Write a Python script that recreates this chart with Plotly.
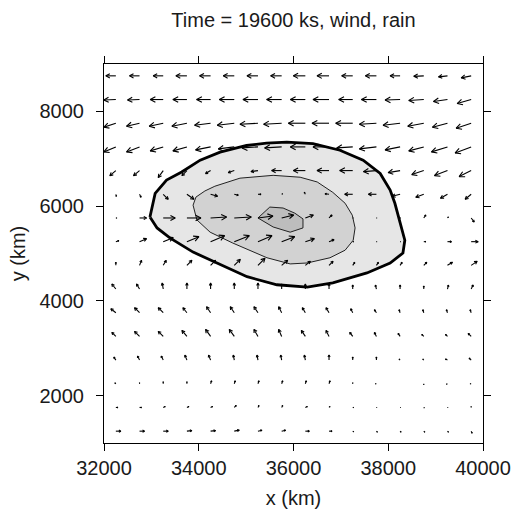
import math
import plotly.graph_objects as go

# ---------------- data ----------------
x_cols = [32250, 32750, 33250, 33750, 34250, 34750, 35250, 35750,
          36250, 36750, 37250, 37750, 38250, 38750, 39250, 39750]
y_rows = [8750, 8250, 7750, 7250, 6750, 6250, 5750, 5250,
          4750, 4250, 3750, 3250, 2750, 2250, 1750, 1250]

# wind components (arbitrary units), one list per row, top to bottom
u_wind = [
    [-10, -10, -10, -11, -11, -11, -11, -11, -12, -12, -11, -11, -10, -10, -9, -10],
    [-12, -12, -13, -14, -14, -15, -15, -15, -15, -16, -14, -15, -15, -15, -14, -14],
    [-12, -13, -14, -15, -16, -17, -18, -18, -17, -17, -17, -17, -17, -16, -15, -15],
    [-12, -13, -13, -14, -15, -16, -16, -17, -15, -16, -16, -17, -15, -15, -16, -16],
    [-6, -6, -5, -5, -5, -6, -7, -10, -12, -12, -13, -13, -12, -12, -13, -12],
    [0.5, 1.5, 5, 7, 7, 4, 3, 1, -1, -4, -8, -8, -8, -8, -7, -6],
    [1, 7, 12, 14, 16, 17, 15, 12, 8, 3, 0.5, 0.5, 0.5, 2, 1, 3],
    [3, 7, 10, 12, 14, 15, 14, 13, 9, 5, 1, 0.5, 0.5, 2, 4, 7],
    [0, 2, 3, 5, 5, 6, 7, 6, 5, 4, 2, 2, 2, 3, 5, 6],
    [-4, -3, -1, 0, 0, 0, 0, 0, 0, 0, 0, -1, 0, 0, 1, 2],
    [-5, -5, -5, -4, -4, -4, -4, -3, -3, -3, -2, -2, -1, -1, -1, -1],
    [-4, -5, -5, -5, -5, -5, -4, -3, -4, -3, -3, -2, -2, -2, -2, -3],
    [-2, -2, -2, -2, -2, -1, -1, -1, -1, 0, 0, 0, -1, -1, -2, -2],
    [-1, 0, 0, 0, 1, 1, 1, 1, 1, 1, 0, -1, 0, 0, -1, -1],
    [2, 2, 2, 2, 2, 2, 1, 1, 2, 1, 1, 0.5, 0.5, 0.5, 0.5, 0],
    [5, 5, 5, 5, 5, 5, 4, 4, 4, 3, 1, 1, 1, 1, 1, 1],
]
v_wind = [
    [0, 0, 0, 0, 0, 0, 0, 0, 0, 0, 0, 0, 0, -0.5, -1, -2],
    [-0.5, -0.5, 0, 0, 0, 0, 0, 0, 0, 0, 0, 0, -0.5, -1, -2, -4],
    [-4, -3, -3, -3, -2, -2, -1, -1, 0, 0, 0, -1, -2, -3, -4, -5],
    [-5, -5, -4, -4, -3, -2, -1, -1, 0, 0, -1, -2, -3, -4, -5, -6],
    [-5, -5, -7, -5, -3, -2, -1, 0, 0, 0, 0, -1, -2, -4, -5, -6],
    [-2, -3, -5, -5, -2, -1, 0, 0.5, 2, 0.5, 0, 0, -2, -3, -4, -5],
    [0, 0, 0, 0, 1, 1, 2, 3, 3, 3, 0, 0, 0, 3, 1, -4],
    [1, 3, 4, 5, 6, 6, 6, 5, 3, 2, 0, 0, 0, 0, 0, 0],
    [3, 5, 5, 5, 5, 6, 7, 5, 4, 4, 3, 3, 3, 3, 3, 4],
    [5, 5, 6, 6, 6, 6, 6, 5, 5, 5, 4, 4, 4, 3, 4, 4],
    [4, 5, 5, 5, 6, 6, 6, 6, 5, 5, 4, 3, 3, 3, 3, 3],
    [4, 5, 5, 6, 7, 7, 7, 7, 6, 6, 4, 4, 3, 2, 2, 3],
    [3, 4, 4, 5, 5, 5, 5, 5, 5, 5, 3, 3, 1, 1, 1, 2],
    [1, 1, 2, 2, 3, 3, 3, 3, 3, 3, 1, 0, 0, -1, -0.5, 0],
    [0, 0, 1, 1, 1, 2, 2, 2, 1, 1, 0, 0, 0, -0.5, 0, 1],
    [0, 0, 0, 0.5, 0.5, 1, 1, 1, 0, 0, -0.5, -1, -1, -1, -1, -2],
]

# rain contour outlines (km)
rain_outer_x = [32970, 33080, 33320, 33640, 34030, 34450, 35010, 35430, 35860, 36410,
                36980, 37470, 37830, 38040, 38140, 38250, 38350, 38310, 38040, 37550,
                36830, 36290, 35650, 35020, 34390, 33880, 33390, 33120, 32970]
rain_outer_y = [5770, 6270, 6550, 6720, 6970, 7140, 7280, 7330, 7350, 7320,
                7180, 6970, 6690, 6340, 6060, 5640, 5280, 5010, 4800, 4590,
                4380, 4290, 4340, 4510, 4800, 5030, 5330, 5540, 5770]
rain_mid_x = [33880, 33940, 34130, 34340, 34870, 35570, 36140, 36500, 36830, 37090,
              37240, 37300, 37260, 37090, 36770, 36290, 35930, 35440, 34720, 34240,
              33960, 33880]
rain_mid_y = [6020, 6190, 6320, 6420, 6590, 6650, 6610, 6510, 6290, 6060,
              5810, 5540, 5280, 5070, 4910, 4800, 4780, 4910, 5220, 5450,
              5710, 6020]
rain_inner_x = [35250, 35500, 35780, 36030, 36200, 36200, 35930, 35570, 35250]
rain_inner_y = [5750, 5980, 5960, 5850, 5730, 5540, 5450, 5560, 5750]

x_ticks = [32000, 34000, 36000, 38000, 40000]
x_tick_text = ["32000", "34000", "36000", "38000", "40000"]
y_ticks = [2000, 4000, 6000, 8000]
y_tick_text = ["2000", "4000", "6000", "8000"]

# ---------------- styling ----------------
KM_PER_UNIT = 21.1
HEAD_FRAC = 0.45
HEAD_MAX = 6.0 * KM_PER_UNIT
HEAD_ANG = math.radians(28)
FONT = "Liberation Sans, Arial, Helvetica, sans-serif"

ax_x, ax_y = [], []
for j, yv in enumerate(y_rows):
    for i, xv in enumerate(x_cols):
        dx = u_wind[j][i] * KM_PER_UNIT
        dy = v_wind[j][i] * KM_PER_UNIT
        L = math.hypot(dx, dy)
        if L == 0:
            continue
        x1, y1 = xv + dx, yv + dy
        ax_x += [xv, x1, None]
        ax_y += [yv, y1, None]
        h = min(HEAD_FRAC * L, HEAD_MAX)
        a = math.atan2(dy, dx)
        hx1 = x1 - h * math.cos(a - HEAD_ANG)
        hy1 = y1 - h * math.sin(a - HEAD_ANG)
        hx2 = x1 - h * math.cos(a + HEAD_ANG)
        hy2 = y1 - h * math.sin(a + HEAD_ANG)
        ax_x += [hx1, x1, hx2, None]
        ax_y += [hy1, y1, hy2, None]

fig = go.Figure()
fig.add_trace(go.Scatter(x=rain_outer_x, y=rain_outer_y, mode="lines", fill="toself",
                         fillcolor="#e6e6e6", line=dict(color="black", width=2.8),
                         hoverinfo="skip", showlegend=False))
fig.add_trace(go.Scatter(x=rain_mid_x, y=rain_mid_y, mode="lines", fill="toself",
                         fillcolor="#d2d2d2", line=dict(color="#222", width=1),
                         hoverinfo="skip", showlegend=False))
fig.add_trace(go.Scatter(x=rain_inner_x, y=rain_inner_y, mode="lines", fill="toself",
                         fillcolor="#bdbdbd", line=dict(color="#222", width=1),
                         hoverinfo="skip", showlegend=False))
fig.add_trace(go.Scatter(x=ax_x, y=ax_y, mode="lines",
                         line=dict(color="black", width=1.1),
                         hoverinfo="skip", showlegend=False))

axis_common = dict(showgrid=False, zeroline=False, showline=True, linecolor="black",
                   linewidth=1, ticks="outside", ticklen=7, tickwidth=1,
                   tickcolor="black", mirror="ticks", automargin=False,
                   tickfont=dict(size=20, color="#1a1a1a", family=FONT))

fig.update_layout(
    width=513, height=511,
    margin=dict(l=104, r=30, t=64, b=68),
    paper_bgcolor="white", plot_bgcolor="white",
    font=dict(family=FONT, color="#1a1a1a"),
    title=dict(text="Time = 19600 ks, wind, rain", x=0.5, xref="paper",
               y=1 - 20 / 511, yref="container", yanchor="middle",
               xanchor="center", font=dict(size=20), automargin=False),
    xaxis=dict(range=[32000, 40000], tickvals=x_ticks, ticktext=x_tick_text,
               title=dict(text="x (km)", font=dict(size=20), standoff=12),
               **axis_common),
    yaxis=dict(range=[1000, 9000], tickvals=y_ticks, ticktext=y_tick_text,
               ticklabelstandoff=8,
               title=dict(text="y (km)", font=dict(size=20), standoff=8),
               **axis_common),
)

fig.write_html("out.html")
